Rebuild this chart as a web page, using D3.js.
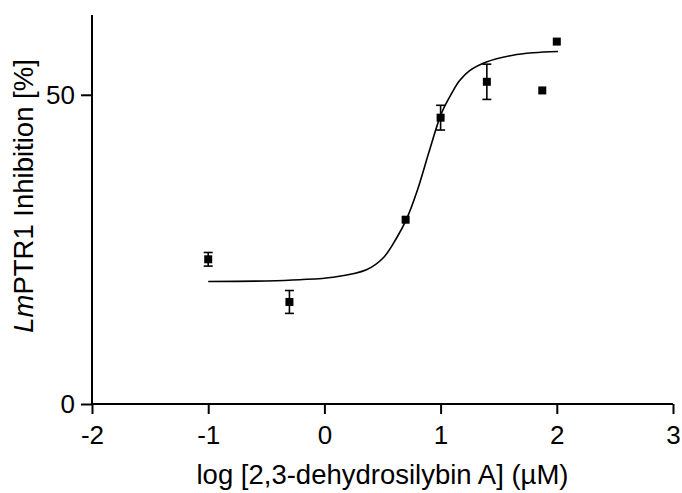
<!DOCTYPE html>
<html>
<head>
<meta charset="utf-8">
<script src="https://cdn.jsdelivr.net/npm/d3@7"></script>
<style>
  body { margin: 0; background: #fff; }
  text { font-family: "Liberation Sans", Arial, sans-serif; fill: #000; }
</style>
</head>
<body>
<div id="svgWrapper"></div>
<script>
"use strict"
// measured points (log conc, % inhibition, SEM)
const logConc = [-1, -0.301, 0.699, 1, 1.398, 1.875, 2];
const inhibition = [23.4, 16.5, 29.8, 46.3, 52.1, 50.7, 58.6];
const sem = [1.1, 1.85, 0, 2.0, 2.85, 0, 0];

// fitted curve
const curveX = [-1, -0.5, -0.212, 0.075, 0.362, 0.505, 0.62, 0.705, 0.792, 0.906, 1.007, 1.1, 1.164, 1.25, 1.394, 1.622, 1.8, 2.01];
const curveY = [19.8, 19.9, 20.1, 20.5, 21.7, 23.6, 26.8, 29.8, 34.1, 41.1, 47.0, 50.4, 52.3, 53.9, 55.3, 56.4, 56.8, 57.0];

const xTicks = [-2, -1, 0, 1, 2, 3];
const yTicks = [0, 50];

var fullWidth = 682;
var fullHeight = 493;

const svg = d3.select("#svgWrapper").append("svg")
    .attr("width", fullWidth).attr("height", fullHeight);

var padLeft = 92, padRight = 673, padTop = 15, padBottom = 404;

var xScale = d3.scaleLinear().domain([-2, 3]).range([padLeft, padRight]);
var yScale = d3.scaleLinear().domain([0, 62.9]).range([padBottom, padTop]);

// axes
var xAxis = d3.axisBottom(xScale).tickValues(xTicks).tickSize(10).tickPadding(12).tickFormat(d3.format("d"));
var yAxis = d3.axisLeft(yScale).tickValues(yTicks).tickSize(11).tickPadding(6);

var gx = svg.append("g").attr("transform", "translate(0," + padBottom + ")").call(xAxis);
var gy = svg.append("g").attr("transform", "translate(" + padLeft + ",0)").call(yAxis);

[gx, gy].forEach(function(g) {
    g.select(".domain").attr("stroke", "#000").attr("stroke-width", 2);
    g.selectAll(".tick line").attr("stroke", "#000").attr("stroke-width", 2);
    g.selectAll(".tick text").style("font-size", "26px").style("font-family", "'Liberation Sans', Arial, sans-serif").attr("fill", "#000");
});
// keep the domains as plain lines
gx.select(".domain").attr("d", "M" + padLeft + ",0H" + padRight);
gy.select(".domain").attr("d", "M0," + padTop + "V" + padBottom);
// tick minus sign as plain hyphen
gx.selectAll(".tick text").text(function(d) { return d < 0 ? "-" + Math.abs(d) : d; });

// fitted curve
svg.append("path")
    .datum(curveX.map(function(x, i) { return [x, curveY[i]]; }))
    .attr("fill", "none")
    .attr("stroke", "#000")
    .attr("stroke-width", 1.6)
    .attr("d", d3.line()
        .x(function(d) { return xScale(d[0]); })
        .y(function(d) { return yScale(d[1]); })
        .curve(d3.curveCatmullRom.alpha(0.5)));

// error bars
var pts = logConc.map(function(x, i) { return {x: x, y: inhibition[i], e: sem[i]}; });
var eb = svg.append("g").attr("stroke", "#000").attr("stroke-width", 1.6);
pts.filter(function(d) { return d.e > 0; }).forEach(function(d) {
    var cx = xScale(d.x);
    eb.append("line").attr("x1", cx).attr("x2", cx)
        .attr("y1", yScale(d.y + d.e)).attr("y2", yScale(d.y - d.e));
    [d.y + d.e, d.y - d.e].forEach(function(v) {
        eb.append("line").attr("x1", cx - 4.5).attr("x2", cx + 4.5)
            .attr("y1", yScale(v)).attr("y2", yScale(v));
    });
});

// markers
svg.append("g").selectAll("rect")
    .data(pts)
    .enter()
    .append("rect")
    .attr("x", function(d) { return xScale(d.x) - 4; })
    .attr("y", function(d) { return yScale(d.y) - 4; })
    .attr("width", 8).attr("height", 8)
    .attr("fill", "#000");

// axis titles
svg.append("text")
    .attr("x", (padLeft + padRight) / 2)
    .attr("y", 484)
    .attr("text-anchor", "middle")
    .style("font-size", "27.5px")
    .text("log [2,3-dehydrosilybin A] (µM)");

var yl = svg.append("text")
    .attr("transform", "translate(33,196) rotate(-90)")
    .attr("text-anchor", "middle")
    .style("font-size", "27.5px");
yl.append("tspan").style("font-style", "italic").text("Lm");
yl.append("tspan").text("PTR1 Inhibition [%]");
</script>
</body>
</html>
